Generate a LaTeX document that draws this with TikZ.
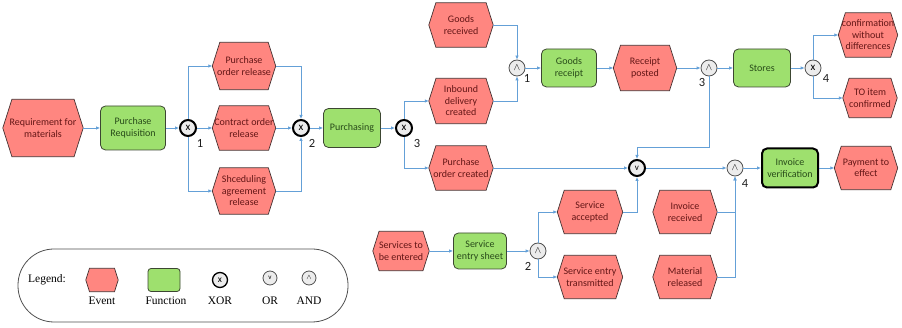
\documentclass[tikz,border=0pt]{standalone}
\usepackage{fontspec}
\setmainfont{Carlito}
\newfontfamily\legfont{Liberation Serif}
\usetikzlibrary{arrows.meta,calc}
\pgfdeclarelayer{background}
\pgfsetlayers{background,main}
\definecolor{evfill}{RGB}{255,134,128}
\definecolor{evline}{RGB}{70,50,50}
\definecolor{evtxt}{RGB}{100,22,22}
\definecolor{fnfill}{RGB}{158,224,110}
\definecolor{fnline}{RGB}{60,70,50}
\definecolor{fntxt}{RGB}{40,75,25}
\definecolor{gatefill}{RGB}{236,236,236}
\definecolor{gateline}{RGB}{80,80,80}
\definecolor{connblue}{RGB}{100,160,215}
\definecolor{numcol}{RGB}{30,30,30}
\definecolor{legline}{RGB}{80,80,80}
\tikzset{
  x=1pt, y=-1pt,
  evtext/.style={inner sep=0pt, align=center, text=evtxt, font=\fontsize{10}{11.5}\selectfont},
  evshape/.style={fill=evfill, draw=evline, line width=0.7pt, line join=miter},
  fn/.style={rectangle, rounded corners=5pt, fill=fnfill, draw=fnline, line width=0.8pt,
    align=center, text=fntxt, font=\fontsize{10}{11.5}\selectfont, inner sep=0pt},
  fnbold/.style={fn, draw=black, line width=2pt},
  gate/.style={circle, minimum size=16pt, inner sep=0pt, fill=gatefill, text=black},
  gthick/.style={gate, draw=black, line width=2pt},
  gthin/.style={gate, draw=gateline, line width=0.8pt},
  conn/.style={draw=connblue, line width=0.8pt, -{Latex[length=4pt,width=3.5pt]}},
  num/.style={font=\fontsize{12.5}{14}\selectfont, text=numcol, inner sep=0pt},
  legtext/.style={font=\legfont\fontsize{11.5}{13}\selectfont, inner sep=0pt, text=black},
}
% #1 options, #2 name, #3 position, #4 width, #5 height, #6 text
\newcommand\evnode[6][]{%
  \node[evtext, minimum width=#4, minimum height=#5, #1] (#2) at (#3) {#6};
  \pgfmathsetlengthmacro\evoff{0.16*#5}%
  \begin{pgfonlayer}{background}
    \path[evshape] (#2.west) -- ([xshift=\evoff]#2.north west) -- ([xshift=-\evoff]#2.north east)
      -- (#2.east) -- ([xshift=-\evoff]#2.south east) -- ([xshift=\evoff]#2.south west) -- cycle;
  \end{pgfonlayer}
}
\begin{document}
\begin{tikzpicture}
\useasboundingbox (0,0) rectangle (902,328);

% ---- top process ----
\evnode{req}{43,128}{80}{57}{Requirement for\\materials}
\node[fn, minimum width=65, minimum height=44] (preq) at (133,128) {Purchase\\Requisition};
\node[gthick] (xor1) at (188,128) {\fontsize{11}{12}\selectfont x};
\evnode{por}{244,66}{63}{47}{Purchase\\order release}
\evnode{cor}{244,128}{63}{44}{Contract order\\release}
\evnode{sar}{244,191}{63}{46}{Shceduling\\agreement\\release}
\node[gthick] (xor2) at (301,128) {\fontsize{11}{12}\selectfont x};
\node[fn, minimum width=57, minimum height=39] (purch) at (352,128) {Purchasing};
\node[gthick] (xor3) at (404,128) {\fontsize{11}{12}\selectfont x};
\evnode{idc}{461,101}{64}{45}{Inbound\\delivery\\created}
\evnode{poc}{461,168}{64}{44}{Purchase\\order created}
\evnode{gr}{461,25}{64}{44}{Goods\\received}
\node[gthin] (and1) at (517,68) {$\wedge$};
\node[fn, minimum width=55, minimum height=38] (grc) at (569,68) {Goods\\receipt};
\evnode{rp}{645,68}{63}{45}{Receipt\\posted}
\node[gthin] (and3) at (709,68) {$\wedge$};
\node[fn, minimum width=57, minimum height=38] (stores) at (762,68) {Stores};
\node[gthin] (xor4) at (813,68) {\fontsize{11}{12}\selectfont x};
\evnode{cwd}{868,35}{59}{44}{confirmation\\without\\differences}
\evnode{toi}{870,98}{54}{39}{TO item\\confirmed}
\node[gthick] (or) at (637,168) {\fontsize{9}{11}\selectfont v};
\node[gthin] (and4) at (735,168) {$\wedge$};
\node[fnbold, minimum width=56, minimum height=39] (iv) at (790,168) {Invoice\\verification};
\evnode{pay}{866,168}{63}{43}{Payment to\\effect}

% ---- bottom process ----
\evnode{ste}{401,251}{56}{39}{Services to\\be entered}
\node[fn, minimum width=53, minimum height=36] (ses) at (480,251) {Service\\entry sheet};
\node[gthin] (and2) at (538,251) {$\wedge$};
\evnode{sa}{590,212}{65}{43}{Service\\accepted}
\evnode{set}{590,277}{65}{43}{Service entry\\transmitted}
\evnode{ir}{685,212}{64}{43}{Invoice\\received}
\evnode{mr}{685,277}{64}{43}{Material\\released}

% ---- gate numbers ----
\node[num] (n1) at (200,143) {1};
\node[num] (n2) at (312,143) {2};
\node[num] (n3) at (417,143) {3};
\node[num] (n4) at (527,78) {1};
\node[num] (n5) at (702,82) {3};
\node[num] (n6) at (826,78) {4};
\node[num] (n7) at (745,183) {4};
\node[num] (n8) at (528,266) {2};

% ---- connectors ----
\draw[conn] (req.east) -- (preq.west);
\draw[conn] (preq.east) -- (xor1.west);
\draw[conn] (xor1.north) |- (por.west);
\draw[conn] (xor1.east) -- (cor.west);
\draw[conn] (xor1.south) |- (sar.west);
\draw[conn] (por.east) -| (xor2.north);
\draw[conn] (cor.east) -- (xor2.west);
\draw[conn] (sar.east) -| (xor2.south);
\draw[conn] (xor2.east) -- (purch.west);
\draw[conn] (purch.east) -- (xor3.west);
\draw[conn] (xor3.north) |- (idc.west);
\draw[conn] (xor3.south) |- (poc.west);
\draw[conn] (gr.east) -| (and1.north);
\draw[conn] (idc.east) -| (and1.south);
\draw[conn] (and1.east) -- (grc.west);
\draw[conn] (grc.east) -- (rp.west);
\draw[conn] (rp.east) -- (and3.west);
\draw[conn] (and3.east) -- (stores.west);
\draw[conn] (stores.east) -- (xor4.west);
\draw[conn] (xor4.north) |- (cwd.west);
\draw[conn] (xor4.south) |- (toi.west);
\coordinate (orjoin) at (637,147);
\draw[conn] (and3.south) |- (orjoin) -- (or.north);
\draw[conn] (poc.east) -- (or.west);
\draw[conn] (or.east) -- (and4.west);
\draw[conn] (and4.east) -- (iv.west);
\draw[conn] (iv.east) -- (pay.west);
\draw[conn] (ste.east) -- (ses.west);
\draw[conn] (ses.east) -- (and2.west);
\draw[conn] (and2.north) |- (sa.west);
\draw[conn] (and2.south) |- (set.west);
\draw[conn] (sa.east) -| (or.south);
\draw[conn] (ir.east) -| (and4.south);
\draw[conn] (mr.east) -| (and4.south);

% ---- legend ----
\node[draw=legline, line width=0.8pt, rounded corners=36pt, minimum width=330, minimum height=73, inner sep=0pt] (legend) at (183,285.5) {};
\node[legtext] (legl) at (47,280) {Legend:};
\evnode{legev}{102,280}{32}{23}{}
\node[fn, rounded corners=3pt, minimum width=32, minimum height=23] (legfn) at (164,280) {};
\node[gate, draw=black, line width=1.3pt, minimum size=15pt] (legxor) at (220,280) {\fontsize{9.5}{11}\selectfont x};
\node[gthin, minimum size=14pt] (legor) at (270,278) {\fontsize{7}{9}\selectfont v};
\node[gthin, minimum size=14pt] (legand) at (309,278) {\scriptsize$\wedge$};
\node[legtext] (tev) at (102,301) {Event};
\node[legtext] (tfn) at (166,301) {Function};
\node[legtext] (txor) at (220,301) {XOR};
\node[legtext] (tor) at (270,301) {OR};
\node[legtext] (tand) at (309,301) {AND};
\end{tikzpicture}
\end{document}
